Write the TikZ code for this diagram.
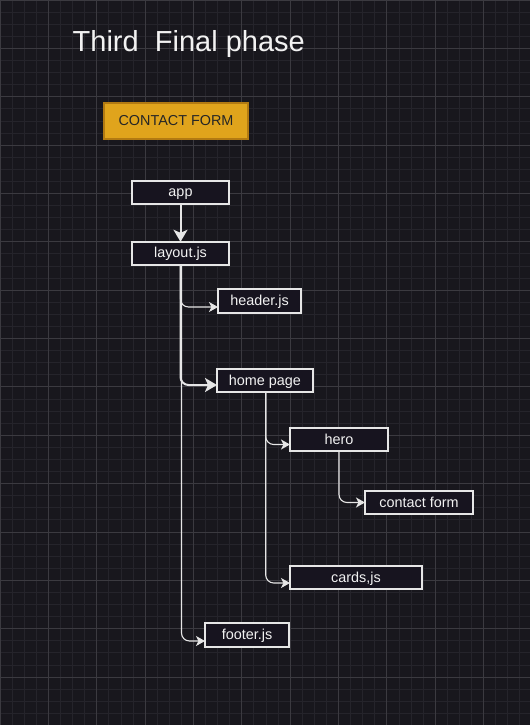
\documentclass[tikz,border=0pt]{standalone}
\usepackage{fontspec}
\setmainfont{Liberation Sans}
\usetikzlibrary{arrows.meta}
\definecolor{bgc}{HTML}{18171D}
\definecolor{minorc}{HTML}{25242B}
\definecolor{majorc}{HTML}{3B3A40}
\definecolor{boxfill}{HTML}{17141F}
\definecolor{boxline}{HTML}{E6E6E6}
\definecolor{goldfill}{HTML}{E0A41C}
\definecolor{goldline}{HTML}{B27A12}
\definecolor{txt}{HTML}{F2F2F2}
\tikzset{
  compbox/.style={draw=boxline, fill=boxfill, line width=2pt, inner sep=0pt, outer sep=0pt,
    text=txt, font=\fontsize{14.4}{16}\selectfont, text height=11pt, text depth=2pt},
  thinlink/.style={draw=boxline, line width=1.1pt, rounded corners=8pt,
    -{Stealth[length=9pt,width=10pt,inset=2.5pt]}},
  thicklink/.style={draw=boxline, line width=2pt, rounded corners=8pt,
    -{Stealth[length=12pt,width=14pt,inset=3pt]}},
}
\begin{document}
\begin{tikzpicture}[x=1pt,y=-1pt]
\useasboundingbox (0,0) rectangle (530,725);
\fill[bgc] (0,0) rectangle (530,725);
\foreach \i in {0,...,44} {
  \draw[minorc, line width=0.8pt] (\i*12.09,0) -- (\i*12.09,725);
}
\foreach \j in {0,...,60} {
  \draw[minorc, line width=0.8pt] (0,\j*12.09) -- (530,\j*12.09);
}
\foreach \i in {0,...,11} {
  \draw[majorc, line width=0.9pt] (\i*48.36,0) -- (\i*48.36,725);
}
\foreach \j in {0,...,15} {
  \draw[majorc, line width=0.9pt] (0,\j*48.36) -- (530,\j*48.36);
}

\node[anchor=base west, inner sep=0pt, text=txt, font=\fontsize{29}{32}\selectfont] (title) at (72.5,52) {Third\ \ Final phase};

\node[draw=goldline, fill=goldfill, line width=2pt, inner sep=0pt, outer sep=0pt,
  minimum width=144pt, minimum height=36pt, text=black!85,
  font=\fontsize{14.4}{16}\selectfont, text height=11pt, text depth=2pt] (cf) at (176,121) {CONTACT FORM};

\node[compbox, minimum width=97pt, minimum height=23pt] (app) at (180.5,192.3) {app};
\node[compbox, minimum width=97pt, minimum height=23pt] (layout) at (180.5,253.3) {layout.js};
\node[compbox, minimum width=83pt, minimum height=24pt] (header) at (259.5,301) {header.js};
\node[compbox, minimum width=96pt, minimum height=23pt] (home) at (265,380.5) {home page};
\node[compbox, minimum width=98pt, minimum height=23pt] (hero) at (339,439.5) {hero};
\node[compbox, minimum width=108pt, minimum height=23pt] (contact) at (419,502.5) {contact form};
\node[compbox, minimum width=132pt, minimum height=23pt] (cards) at (356,577.5) {cards,js};
\node[compbox, minimum width=84pt, minimum height=24pt] (footer) at (247,635) {footer.js};

\draw[draw=boxline, line width=2pt, -{Stealth[length=12pt,width=14pt,inset=3pt]}] (app.south) -- (layout.north);
\draw[thinlink] (layout.south) |- ([yshift=-6pt]header.west);
\draw[thicklink] (layout.south) |- ([yshift=-4.5pt]home.west);
\draw[thinlink] ([xshift=1pt]layout.south) |- ([yshift=-6pt]footer.west);
\draw[thinlink] ([xshift=0.7pt]home.south) |- ([yshift=-5pt]hero.west);
\draw[thinlink] (hero.south) |- (contact.west);
\draw[thinlink] ([xshift=0.7pt]home.south) |- ([yshift=-5.5pt]cards.west);
\end{tikzpicture}
\end{document}
